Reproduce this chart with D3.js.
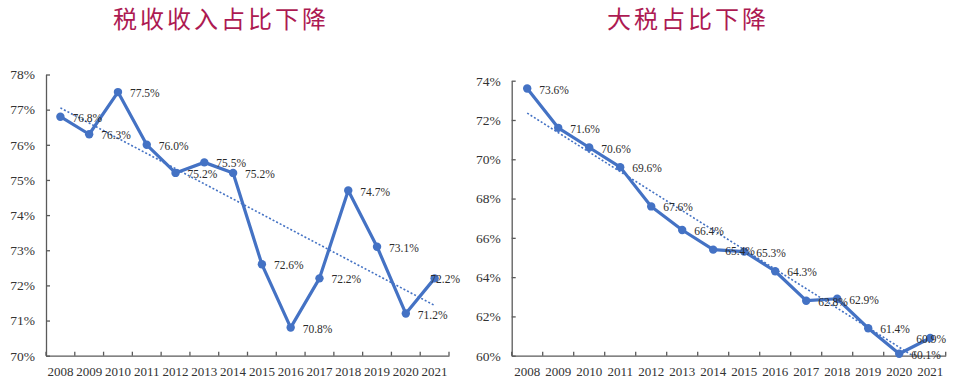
<!DOCTYPE html>
<html>
<head>
<meta charset="utf-8">
<script src="https://cdn.jsdelivr.net/npm/d3@7"></script>
<style>
  body { margin: 0; background: #fff; }
  svg { display: block; }
</style>
</head>
<body>
<svg id="main" width="954" height="378"></svg>
<script>
// years shared by both charts
const years = ["2008","2009","2010","2011","2012","2013","2014","2015","2016","2017","2018","2019","2020","2021"];

// left: tax revenue share (%)
const taxShare = [76.8, 76.3, 77.5, 76.0, 75.2, 75.5, 75.2, 72.6, 70.8, 72.2, 74.7, 73.1, 71.2, 72.2];
const taxTicks = [70, 71, 72, 73, 74, 75, 76, 77, 78];
const taxTrend = [77.05, 71.43]; // dotted trend line, 2008 -> 2021

// right: big taxes share (%)
const bigTaxShare = [73.6, 71.6, 70.6, 69.6, 67.6, 66.4, 65.4, 65.3, 64.3, 62.8, 62.9, 61.4, 60.1, 60.9];
const bigTaxTicks = [60, 62, 64, 66, 68, 70, 72, 74];
const bigTaxTrend = [72.35, 59.44];

const titles = ["税收收入占比下降", "大税占比下降"];

const blue = "#4472c4";
const svg = d3.select("#main");

function drawChart(cfg) {
  let { left, right, top, bottom, values, ticks, trend, title, titleX, labelLimit, id } = cfg;

  let x = d3.scaleBand().domain(years).range([left, right]).padding(0);
  let y = d3.scaleLinear().domain([ticks[0], ticks[ticks.length - 1]]).range([bottom, top]);
  let cx = d => x(d) + x.bandwidth() / 2;

  let g = svg.append("g");

  // title
  g.append("text")
    .attr("x", titleX)
    .attr("y", 28)
    .attr("text-anchor", "middle")
    .style("font-family", "'Noto Sans CJK SC', sans-serif")
    .style("font-size", "24px")
    .style("letter-spacing", "3px")
    .style("fill", "#ad1a52")
    .text(title);

  // y axis, ticks pointing inward
  let yAxis = g.append("g")
    .attr("transform", `translate(${left},0)`)
    .call(d3.axisLeft(y).tickValues(ticks).tickFormat(d => d + "%")
      .tickSizeInner(-4).tickSizeOuter(0).tickPadding(11));

  // x axis labels
  let xAxis = g.append("g")
    .attr("transform", `translate(0,${bottom})`)
    .call(d3.axisBottom(x).tickSize(0).tickPadding(11));

  [yAxis, xAxis].forEach(a => {
    a.select(".domain").attr("stroke", "#5a5a5a").attr("stroke-width", 1.3);
    a.selectAll(".tick line").attr("stroke", "#5a5a5a").attr("stroke-width", 1.3);
    a.selectAll("text")
      .style("font-family", "'Liberation Serif', 'Times New Roman', serif")
      .style("fill", "#333");
  });
  yAxis.selectAll("text").style("font-size", "13.5px");
  xAxis.selectAll("text").style("font-size", "13px");

  // x ticks on the band boundaries, pointing up
  g.selectAll(".bound")
    .data(d3.range(years.length + 1))
    .join("line")
    .attr("x1", i => left + i * x.step())
    .attr("x2", i => left + i * x.step())
    .attr("y1", bottom)
    .attr("y2", bottom - 4)
    .attr("stroke", "#5a5a5a")
    .attr("stroke-width", 1.3);

  // clip for trend line
  svg.append("clipPath").attr("id", id)
    .append("rect")
    .attr("x", left).attr("y", top)
    .attr("width", right - left).attr("height", bottom - top);

  g.append("line")
    .attr("clip-path", `url(#${id})`)
    .attr("x1", cx(years[0]))
    .attr("y1", y(trend[0]))
    .attr("x2", cx(years[years.length - 1]))
    .attr("y2", y(trend[1]))
    .attr("stroke", blue)
    .attr("stroke-width", 1.6)
    .attr("stroke-dasharray", "2,2");

  // main line
  let line = d3.line()
    .x((d, i) => cx(years[i]))
    .y(d => y(d));

  g.append("path")
    .datum(values)
    .attr("d", line)
    .attr("fill", "none")
    .attr("stroke", blue)
    .attr("stroke-width", 3.2)
    .attr("stroke-linejoin", "round");

  g.selectAll(".dot")
    .data(values)
    .join("circle")
    .attr("cx", (d, i) => cx(years[i]))
    .attr("cy", d => y(d))
    .attr("r", 4.2)
    .attr("fill", blue);

  // data labels to the right of each point
  let labels = g.selectAll(".lbl")
    .data(values)
    .join("text")
    .attr("x", (d, i) => cx(years[i]) + 12)
    .attr("y", d => y(d) + 1)
    .attr("dy", "0.35em")
    .style("font-family", "'Liberation Serif', 'Times New Roman', serif")
    .style("font-size", "11.5px")
    .style("fill", "#2b2b2b")
    .text(d => d.toFixed(1) + "%");

  // keep labels inside the chart area
  labels.each(function() {
    let w = this.getComputedTextLength();
    let lx = +d3.select(this).attr("x");
    if (lx + w > labelLimit) d3.select(this).attr("x", labelLimit - w);
  });
}

drawChart({
  id: "clipL",
  left: 46, right: 449, top: 74.5, bottom: 355.7,
  values: taxShare, ticks: taxTicks, trend: taxTrend,
  title: titles[0], titleX: 221, labelLimit: 460
});

drawChart({
  id: "clipR",
  left: 511.7, right: 945.7, top: 80.7, bottom: 355.7,
  values: bigTaxShare, ticks: bigTaxTicks, trend: bigTaxTrend,
  title: titles[1], titleX: 688, labelLimit: 946
});
</script>
</body>
</html>
